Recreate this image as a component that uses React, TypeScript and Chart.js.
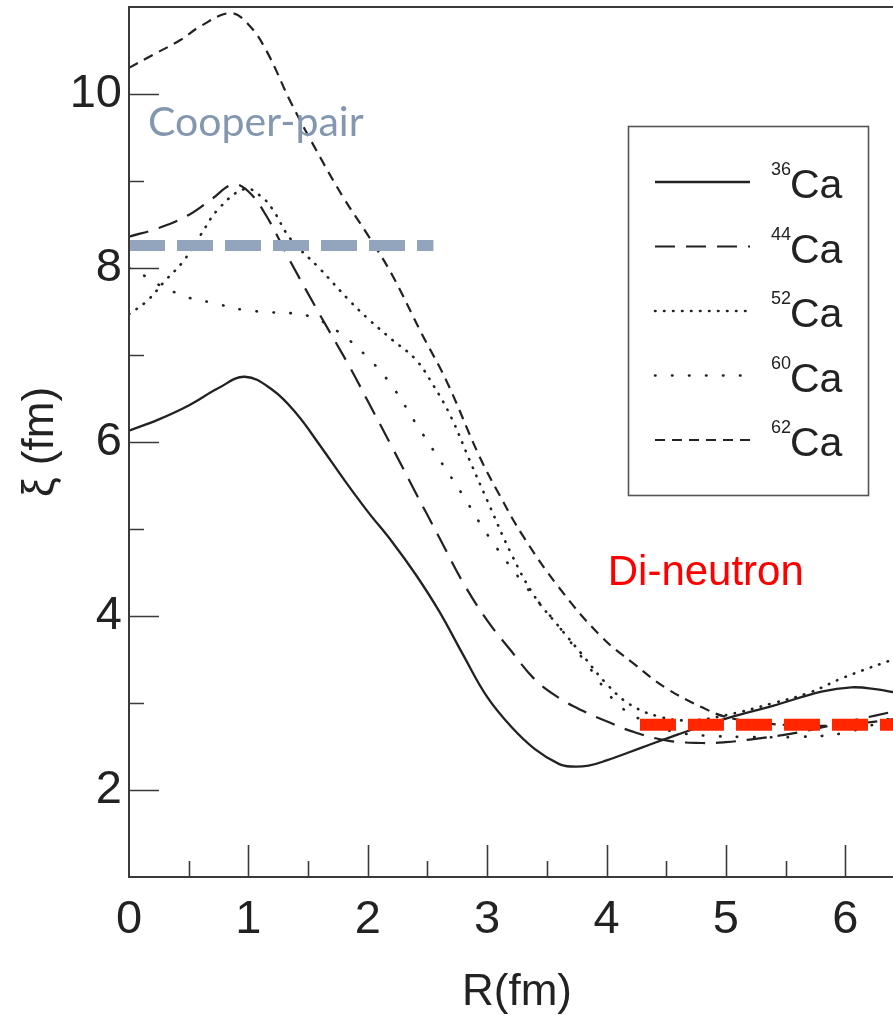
import React, { useEffect, useRef } from 'react';
import { Chart, registerables } from 'chart.js';

Chart.register(...registerables);

// ---- data ----
const r36 = [0, 0.25, 0.5, 0.75, 0.97, 1.2, 1.4, 1.6, 1.8, 2.0, 2.2, 2.4, 2.6, 2.8, 3.0, 3.2, 3.4, 3.6, 3.7, 3.85, 4.0, 4.3, 4.6, 5.0, 5.4, 5.8, 6.05, 6.25, 6.5];
const xi36 = [6.13, 6.26, 6.42, 6.62, 6.75, 6.6, 6.33, 5.96, 5.57, 5.2, 4.86, 4.48, 4.05, 3.55, 3.07, 2.73, 2.47, 2.3, 2.27, 2.28, 2.34, 2.49, 2.64, 2.82, 2.97, 3.13, 3.18, 3.16, 3.1];

const r44 = [0, 0.25, 0.5, 0.7, 0.87, 1.0, 1.15, 1.35, 1.6, 1.85, 2.0, 2.2, 2.4, 2.6, 2.8, 3.0, 3.2, 3.4, 3.6, 3.8, 4.0, 4.2, 4.5, 4.8, 5.0, 5.2, 5.6, 6.0, 6.5];
const xi44 = [8.36, 8.46, 8.61, 8.8, 8.96, 8.88, 8.6, 8.08, 7.46, 6.86, 6.47, 5.95, 5.42, 4.9, 4.38, 3.95, 3.6, 3.27, 3.06, 2.91, 2.79, 2.68, 2.57, 2.54, 2.55, 2.58, 2.66, 2.78, 2.93];

const r52 = [0, 0.15, 0.3, 0.45, 0.6, 0.75, 0.97, 1.1, 1.2, 1.35, 1.6, 1.85, 2.0, 2.2, 2.4, 2.55, 2.7, 2.85, 3.0, 3.2, 3.4, 3.6, 3.8, 4.0, 4.2, 4.45, 4.7, 5.0, 5.4, 5.7, 6.0, 6.5];
const xi52 = [7.47, 7.62, 7.85, 8.07, 8.38, 8.68, 8.91, 8.83, 8.68, 8.34, 7.99, 7.62, 7.42, 7.18, 6.95, 6.65, 6.28, 5.8, 5.33, 4.72, 4.22, 3.88, 3.55, 3.22, 2.98, 2.84, 2.8, 2.86, 3.0, 3.12, 3.3, 3.55];

const r60 = [0, 0.13, 0.26, 0.5, 0.7, 0.95, 1.2, 1.5, 1.75, 2.0, 2.2, 2.4, 2.6, 2.8, 3.0, 3.3, 3.6, 3.85, 4.1, 4.35, 4.6, 4.9, 5.2, 5.6, 6.0, 6.5];
const xi60 = [8.0, 7.91, 7.8, 7.66, 7.6, 7.52, 7.49, 7.45, 7.27, 6.97, 6.65, 6.22, 5.8, 5.38, 4.94, 4.38, 3.88, 3.42, 2.98, 2.77, 2.66, 2.62, 2.61, 2.61, 2.66, 2.88];

const r62 = [0, 0.2, 0.43, 0.6, 0.85, 1.0, 1.15, 1.35, 1.57, 1.8, 2.0, 2.2, 2.45, 2.66, 2.93, 3.1, 3.3, 3.6, 3.95, 4.22, 4.5, 4.8, 5.0, 5.3, 5.7, 6.0, 6.5];
const xi62 = [10.3, 10.45, 10.62, 10.78, 10.93, 10.8, 10.5, 9.92, 9.35, 8.8, 8.38, 7.93, 7.25, 6.7, 5.85, 5.4, 4.92, 4.33, 3.77, 3.46, 3.17, 2.95, 2.84, 2.77, 2.74, 2.75, 2.83];

const massNumbers = ['36', '44', '52', '60', '62'];
const elementSymbol = 'Ca';
const xTickLabels = ['0', '1', '2', '3', '4', '5', '6'];
const yTickLabels = ['2', '4', '6', '8', '10'];

const cooperPairR = [0, 2.55];
const cooperPairXi = [8.26, 8.26];
const diNeutronR = [4.28, 6.5];
const diNeutronXi = [2.75, 2.75];

const annotationTexts = ['Cooper-pair', 'Di-neutron'];
const annotationR = [0.16, 4.01];
const annotationXi = [9.52, 4.36];

// ---- styles ----
const FONT = '"Liberation Sans", Arial, Helvetica, sans-serif';
const INK = '#222222';
const FRAME = '#3a3a3a';

const seriesR = [r36, r44, r52, r60, r62];
const seriesXi = [xi36, xi44, xi52, xi60, xi62];
const curveStyles = [
  { dash: [] as number[], width: 2.3, cap: 'butt' },
  { dash: [20, 11], width: 2.2, cap: 'butt' },
  { dash: [0.5, 8.5], width: 2.6, cap: 'round' },
  { dash: [0.5, 16.5], width: 2.6, cap: 'round' },
  { dash: [10, 7], width: 2.2, cap: 'butt' },
];

const toPoints = (xs: number[], ys: number[]) => xs.map((v, i) => ({ x: v, y: ys[i] }));

const decorPlugin = {
  id: 'decor',
  afterDatasetsDraw(chart: any) {
    const { ctx, chartArea: ca } = chart;
    const x = chart.scales.x;
    const y = chart.scales.y;
    ctx.save();

    // annotation texts
    ctx.textAlign = 'left';
    ctx.textBaseline = 'alphabetic';
    ctx.font = '41px Lato, "Open Sans", sans-serif';
    ctx.fillStyle = '#8497B0';
    ctx.fillText(annotationTexts[0], x.getPixelForValue(annotationR[0]), y.getPixelForValue(annotationXi[0]));
    ctx.font = `42px ${FONT}`;
    ctx.fillStyle = '#FF0000';
    ctx.fillText(annotationTexts[1], x.getPixelForValue(annotationR[1]), y.getPixelForValue(annotationXi[1]));

    // frame (top, left, bottom)
    ctx.setLineDash([]);
    ctx.strokeStyle = FRAME;
    ctx.lineWidth = 2;
    ctx.lineCap = 'butt';
    ctx.beginPath();
    ctx.moveTo(ca.right + 5, ca.top);
    ctx.lineTo(ca.left, ca.top);
    ctx.lineTo(ca.left, ca.bottom);
    ctx.lineTo(ca.right + 5, ca.bottom);
    ctx.stroke();

    // inward tick marks
    ctx.lineWidth = 1.6;
    ctx.beginPath();
    x.ticks.forEach((t: any) => {
      if (t.value <= x.min || t.value >= x.max) return;
      const px = Math.round(x.getPixelForValue(t.value)) + 0.5;
      const len = Number.isInteger(t.value) ? 32 : 16;
      ctx.moveTo(px, ca.bottom);
      ctx.lineTo(px, ca.bottom - len);
    });
    y.ticks.forEach((t: any) => {
      if (t.value <= y.min || t.value >= y.max) return;
      const py = Math.round(y.getPixelForValue(t.value)) + 0.5;
      const len = t.value % 2 === 0 ? 30 : 15;
      ctx.moveTo(ca.left, py);
      ctx.lineTo(ca.left + len, py);
    });
    ctx.stroke();

    // legend box
    const bx = 628, by = 126, bw = 240, bh = 369;
    ctx.fillStyle = '#ffffff';
    ctx.fillRect(bx, by, bw, bh);
    ctx.strokeStyle = '#555555';
    ctx.lineWidth = 1.6;
    ctx.strokeRect(bx + 0.5, by + 0.5, bw, bh);

    const datasets = chart.data.datasets.filter((d: any) => d.isCurve);
    datasets.forEach((d: any, i: number) => {
      const ly = by + 56 + i * 64.5;
      ctx.strokeStyle = d.borderColor;
      ctx.lineWidth = d.borderWidth;
      ctx.lineCap = d.borderCapStyle;
      ctx.setLineDash(d.borderDash);
      ctx.beginPath();
      ctx.moveTo(bx + 27, ly);
      ctx.lineTo(bx + 122, ly);
      ctx.stroke();
      ctx.setLineDash([]);
      ctx.fillStyle = INK;
      ctx.textAlign = 'left';
      ctx.textBaseline = 'alphabetic';
      ctx.font = `18px ${FONT}`;
      ctx.fillText(massNumbers[i], bx + 143, ly - 7);
      ctx.font = `41px ${FONT}`;
      ctx.fillText(elementSymbol, bx + 162, ly + 16);
    });

    ctx.restore();
  },
};

export default function App() {
  const canvasRef = useRef<HTMLCanvasElement | null>(null);

  useEffect(() => {
    const canvas = canvasRef.current;
    if (!canvas) return;

    const curveSets = seriesR.map((xs, i) => ({
      label: massNumbers[i] + elementSymbol,
      isCurve: true,
      data: toPoints(xs, seriesXi[i]),
      borderColor: INK,
      borderWidth: curveStyles[i].width,
      borderDash: curveStyles[i].dash,
      borderCapStyle: curveStyles[i].cap,
      borderJoinStyle: 'round',
      tension: 0.4,
      pointRadius: 0,
      fill: false,
    }));

    const chart = new Chart(canvas, {
      type: 'line',
      data: {
        datasets: [
          {
            label: 'Cooper-pair',
            isCurve: false,
            data: toPoints(cooperPairR, cooperPairXi),
            borderColor: '#93A5BD',
            borderWidth: 11,
            borderDash: [36, 12],
            borderCapStyle: 'butt',
            pointRadius: 0,
            fill: false,
          },
          {
            label: 'Di-neutron',
            isCurve: false,
            data: toPoints(diNeutronR, diNeutronXi),
            borderColor: '#FF2600',
            borderWidth: 12,
            borderDash: [36, 12],
            borderCapStyle: 'butt',
            pointRadius: 0,
            fill: false,
          },
          ...curveSets,
        ] as any,
      },
      options: {
        animation: false,
        responsive: false,
        maintainAspectRatio: false,
        events: [],
        layout: { padding: { top: 7, right: 0, bottom: 0, left: 0 } },
        plugins: {
          legend: { display: false },
          tooltip: { enabled: false },
        },
        scales: {
          x: {
            type: 'linear',
            min: 0,
            max: 6.5,
            grid: { display: false, drawTicks: false },
            border: { display: false },
            ticks: {
              stepSize: 0.5,
              autoSkip: false,
              maxRotation: 0,
              padding: 15,
              color: INK,
              font: { family: FONT, size: 47 },
              callback: (v: any) => (xTickLabels.includes(String(v)) ? String(v) : ''),
            },
            title: {
              display: true,
              text: 'R(fm)',
              color: INK,
              font: { family: FONT, size: 44 },
              padding: { top: 0, bottom: 4 },
            },
            afterFit: (scale: any) => {
              scale.height = 146;
              scale.paddingLeft = 0;
              scale.paddingRight = 0;
            },
          },
          y: {
            type: 'linear',
            min: 1,
            max: 11,
            grid: { display: false, drawTicks: false },
            border: { display: false },
            ticks: {
              stepSize: 1,
              autoSkip: false,
              padding: 7,
              color: INK,
              font: { family: FONT, size: 47 },
              callback: (v: any) => (yTickLabels.includes(String(v)) ? String(v) : ''),
            },
            title: {
              display: true,
              text: 'ξ (fm)',
              color: INK,
              font: { family: FONT, size: 44 },
              padding: { top: 14, bottom: 0 },
            },
            afterFit: (scale: any) => {
              scale.width = 129;
              scale.paddingTop = 0;
              scale.paddingBottom = 0;
            },
          },
        },
      } as any,
      plugins: [decorPlugin],
    });

    return () => {
      chart.destroy();
    };
  }, []);

  return (
    <div
      style={{
        position: 'fixed',
        left: 0,
        top: 0,
        width: 893,
        height: 1023,
        overflow: 'hidden',
        background: '#ffffff',
      }}
    >
      <canvas ref={canvasRef} width={905} height={1023} style={{ display: 'block', width: 905, height: 1023 }} />
    </div>
  );
}
